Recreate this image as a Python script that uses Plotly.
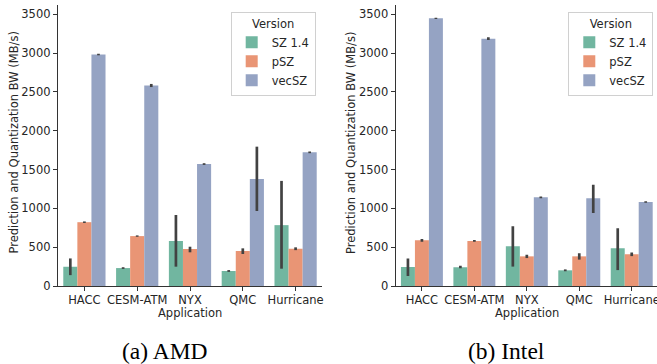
import plotly.graph_objects as go

apps = ["HACC", "CESM-ATM", "NYX", "QMC", "Hurricane"]
versions = ["SZ 1.4", "pSZ", "vecSZ"]
colors = ["#71b6a0", "#e99575", "#95a3c3"]

# AMD (mean, lower CI, upper CI)
amd_sz14 = [248, 231, 580, 193, 784]
amd_sz14_lo = [140, 220, 249, 182, 223]
amd_sz14_hi = [355, 242, 915, 205, 1354]
amd_psz = [822, 643, 477, 451, 480]
amd_psz_lo = [812, 634, 434, 412, 462]
amd_psz_hi = [832, 652, 506, 485, 498]
amd_vecsz = [2982, 2583, 1571, 1378, 1722]
amd_vecsz_lo = [2972, 2563, 1560, 966, 1711]
amd_vecsz_hi = [2992, 2603, 1582, 1795, 1733]

# Intel (mean, lower CI, upper CI)
intel_sz14 = [245, 243, 511, 202, 485]
intel_sz14_lo = [130, 228, 250, 190, 205]
intel_sz14_hi = [355, 260, 770, 214, 745]
intel_psz = [588, 580, 382, 382, 408]
intel_psz_lo = [570, 569, 360, 340, 385]
intel_psz_hi = [606, 591, 402, 422, 430]
intel_vecsz = [3448, 3186, 1142, 1129, 1082]
intel_vecsz_lo = [3439, 3168, 1131, 940, 1072]
intel_vecsz_hi = [3457, 3204, 1153, 1305, 1092]

y_ticks = [0, 500, 1000, 1500, 2000, 2500, 3000, 3500]
x_title = "Application"
y_title = "Prediction and Quantization BW (MB/s)"
captions = ["(a) AMD", "(b) Intel"]

amd = [(amd_sz14, amd_sz14_lo, amd_sz14_hi),
       (amd_psz, amd_psz_lo, amd_psz_hi),
       (amd_vecsz, amd_vecsz_lo, amd_vecsz_hi)]
intel = [(intel_sz14, intel_sz14_lo, intel_sz14_hi),
         (intel_psz, intel_psz_lo, intel_psz_hi),
         (intel_vecsz, intel_vecsz_lo, intel_vecsz_hi)]

ERR_COLOR = "#424242"
TXT = "#262626"
FONT = "DejaVu Sans"
FS = 11.5

fig = go.Figure()


def add_panel(data, xa, ya, leg):
    for v, c, (m, lo, hi) in zip(versions, colors, data):
        fig.add_trace(go.Bar(
            x=apps, y=m, name=v, marker=dict(color=c, line=dict(width=0)),
            xaxis=xa, yaxis=ya, legend=leg,
            error_y=dict(type="data", symmetric=False,
                         array=[h - a for h, a in zip(hi, m)],
                         arrayminus=[a - l for a, l in zip(m, lo)],
                         color=ERR_COLOR, thickness=2.7, width=0),
        ))


add_panel(amd, "x", "y", "legend")
add_panel(intel, "x2", "y2", "legend2")

W, H = 657, 364
ydom = [1 - 286 / H, 1 - 5 / H]

axis_common = dict(showline=True, linecolor="#333333", linewidth=1.3,
                   ticks="outside", ticklen=4, tickwidth=1.2, tickcolor="#333333",
                   showgrid=False, zeroline=False, mirror=False, automargin=False,
                   tickfont=dict(family=FONT, size=FS, color=TXT))

legend_common = dict(bgcolor="white", bordercolor="#d0d0d0", borderwidth=1,
                     font=dict(family=FONT, size=FS, color=TXT),
                     title=dict(text="Version", side="top center",
                                font=dict(family=FONT, size=FS, color=TXT)),
                     xanchor="right", yanchor="top", tracegroupgap=0)

annots = []
for xc, yc in [(190, 313), (527, 313)]:
    annots.append(dict(text=x_title, x=xc / W, y=1 - yc / H, xref="paper", yref="paper",
                       showarrow=False, xanchor="center", yanchor="middle",
                       font=dict(family=FONT, size=FS, color=TXT)))
for xc in [13.5, 351]:
    annots.append(dict(text=y_title, x=xc / W, y=1 - 143 / H, xref="paper", yref="paper",
                       showarrow=False, xanchor="center", yanchor="middle", textangle=-90,
                       font=dict(family=FONT, size=FS, color=TXT)))
for cap, xc in zip(captions, [165, 506]):
    annots.append(dict(text=cap, x=xc / W, y=1 - 351 / H, xref="paper", yref="paper",
                       showarrow=False, xanchor="center", yanchor="middle",
                       font=dict(family="Liberation Serif", size=23.5, color="black")))

fig.update_layout(
    width=W, height=H,
    margin=dict(l=0, r=0, t=0, b=0),
    paper_bgcolor="white", plot_bgcolor="white",
    barmode="group", bargap=0.2, bargroupgap=0,
    font=dict(family=FONT, size=FS, color=TXT),
    xaxis=dict(domain=[58 / W, 322 / W], type="category", range=[-0.5, 4.5],
               anchor="y", ticklabelstandoff=-1, **axis_common),
    yaxis=dict(domain=ydom, range=[0, 3620], tickvals=y_ticks, anchor="x", **axis_common),
    xaxis2=dict(domain=[395.7 / W, 1.0], type="category", range=[-0.5, 4.482],
                anchor="y2", ticklabelstandoff=-1, **axis_common),
    yaxis2=dict(domain=ydom, range=[0, 3620], tickvals=y_ticks, anchor="x2", **axis_common),
    legend=dict(x=315.7 / W, y=1 - 11.7 / H, **legend_common),
    legend2=dict(x=653.3 / W, y=1 - 11.7 / H, **legend_common),
    annotations=annots,
)

fig.write_html("out.html", config={"displayModeBar": False},
               post_script="document.body.style.margin='0';document.body.style.overflow='hidden';")
